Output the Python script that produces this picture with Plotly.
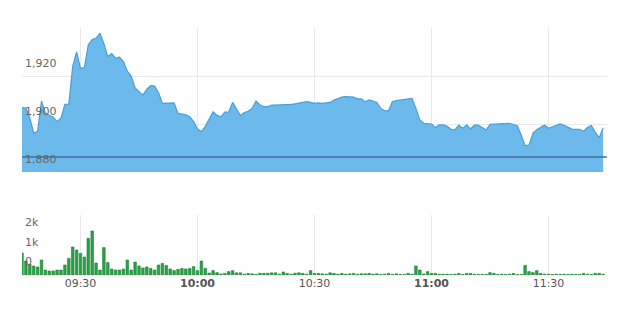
import pandas as pd
import plotly.graph_objects as go

# ---- data ----
start_time = "2024-01-02 09:15"
price = [
    1906.8, 1906.6, 1902.5, 1896.2, 1897.0, 1909.5, 1904.5, 1903.5, 1902.8, 1901.0,
    1902.5, 1908.2, 1908.3, 1924.0, 1930.0, 1923.2, 1923.5, 1933.0, 1935.2, 1935.8,
    1937.8, 1933.5, 1928.0, 1929.3, 1927.4, 1927.8, 1926.0, 1922.0, 1920.0, 1915.0,
    1913.5, 1912.0, 1914.5, 1916.0, 1915.8, 1913.0, 1908.6, 1908.6, 1908.8, 1908.8,
    1904.4, 1904.2, 1903.8, 1903.0, 1901.0, 1897.9, 1896.8, 1899.0, 1902.4, 1905.1,
    1903.6, 1903.0, 1905.0, 1905.0, 1909.0, 1906.0, 1903.5, 1904.8, 1905.3, 1906.5,
    1909.6, 1908.0, 1907.2, 1907.2, 1907.9, 1907.9, 1907.9, 1908.0, 1908.0, 1908.2,
    1908.4, 1908.6, 1908.8, 1909.3, 1909.0, 1908.6, 1908.8, 1908.6, 1908.8, 1909.0,
    1910.0, 1910.7, 1911.2, 1911.4, 1911.2, 1911.2, 1910.5, 1910.5, 1909.3, 1910.0,
    1909.6, 1909.0, 1906.5, 1905.5, 1905.5, 1909.4, 1909.8, 1910.0, 1910.2, 1910.4,
    1910.7, 1906.5, 1901.7, 1900.3, 1900.3, 1900.0, 1898.5, 1899.6, 1899.6, 1899.0,
    1897.8, 1897.5, 1899.5, 1898.2, 1899.7, 1898.0, 1899.5, 1899.5, 1898.5, 1897.5,
    1899.9, 1900.0, 1900.0, 1900.0, 1900.1, 1900.3, 1899.8, 1899.3, 1895.4, 1891.0,
    1891.2, 1896.1, 1897.6, 1898.5, 1899.6, 1898.2, 1898.8, 1899.5, 1900.0, 1899.5,
    1898.6, 1897.9, 1897.8, 1897.8, 1897.0, 1898.5, 1899.4, 1896.5, 1894.3, 1898.3,
]
volume = [
    1100, 700, 530, 450, 400, 750, 250, 200, 200, 250,
    250, 500, 830, 1400, 1250, 1080, 900, 1830, 2200, 600,
    250, 1370, 620, 300, 250, 250, 300, 750, 250, 650,
    450, 350, 400, 330, 250, 500, 580, 480, 300, 220,
    280, 330, 300, 330, 420, 220, 700, 330, 100, 220,
    120, 50, 80, 170, 220, 110, 110, 40, 80, 60,
    30, 90, 80, 90, 110, 110, 40, 150, 80, 40,
    90, 110, 80, 40, 220, 80, 80, 60, 40, 110,
    80, 40, 80, 40, 60, 80, 40, 60, 60, 80,
    40, 60, 30, 40, 80, 30, 60, 30, 30, 80,
    40, 450, 250, 50, 170, 80, 80, 40, 40, 40,
    30, 40, 80, 30, 80, 80, 40, 30, 30, 30,
    120, 80, 30, 40, 30, 40, 80, 30, 30, 480,
    170, 120, 220, 80, 40, 40, 30, 40, 30, 40,
    30, 40, 30, 30, 80, 40, 30, 80, 80, 40,
]
prev_close = 1886.3
x_range = ["2024-01-02 09:15", "2024-01-02 11:45"]
x_tickvals = ["2024-01-02 09:30", "2024-01-02 10:00", "2024-01-02 10:30",
              "2024-01-02 11:00", "2024-01-02 11:30"]
x_ticktext = ["09:30", "<b>10:00</b>", "10:30", "<b>11:00</b>", "11:30"]
price_tickvals = [1880, 1900, 1920, 1940]
price_ticktext = ["1,880", "1,900", "1,920", ""]
vol_tickvals = [1000, 2000]
vol_ticktext = ["1k", "2k"]
vol_zero_label = "0"

times = pd.date_range(start_time, periods=len(price), freq="1min")

fig = go.Figure()
fig.add_trace(go.Scatter(
    x=times, y=price, mode="lines", fill="tozeroy",
    line=dict(color="#4a9fd9", width=1.2), fillcolor="#6cb9eb",
    xaxis="x", yaxis="y", showlegend=False,
))
fig.add_trace(go.Scatter(
    x=x_range, y=[prev_close, prev_close], mode="lines",
    line=dict(color="#3f6f9c", width=1.5),
    xaxis="x", yaxis="y", showlegend=False,
))
fig.add_trace(go.Bar(
    x=times, y=volume, width=40000,
    marker=dict(color="#2ba048", line=dict(color="#1a8534", width=0.6)),
    xaxis="x2", yaxis="y2", showlegend=False,
))

font = dict(family="DejaVu Sans", size=11, color="#666666")
common_x = dict(type="date", range=x_range, tickvals=x_tickvals,
                showgrid=True, gridcolor="#e8e8e8", gridwidth=1,
                zeroline=False, showline=False, ticks="", tickfont=font)

fig.update_layout(
    width=640, height=319,
    margin=dict(l=22, r=33, t=28, b=44),
    paper_bgcolor="white", plot_bgcolor="white",
    font=font,
    xaxis=dict(common_x, anchor="y", showticklabels=False),
    xaxis2=dict(common_x, anchor="y2", ticktext=x_ticktext,
                tickfont=dict(family="DejaVu Sans", size=11, color="#555555")),
    yaxis=dict(domain=[0.417, 1.0], range=[1880, 1940],
               tickvals=price_tickvals, ticktext=price_ticktext,
               ticklabelposition="inside top", ticklabelshift=-5, showgrid=True,
               gridcolor="#e8e8e8", zeroline=False, ticks="", tickfont=font),
    yaxis2=dict(domain=[0.0, 0.243], range=[0, 3000],
                tickvals=vol_tickvals, ticktext=vol_ticktext,
                ticklabelposition="inside top", ticklabelshift=-5, showgrid=False,
                zeroline=False, ticks="", tickfont=font),
    bargap=0.3,
)
fig.add_annotation(
    text=vol_zero_label, x=0, xref="x2 domain", y=0, yref="y2",
    xanchor="left", yanchor="bottom", xshift=1, yshift=5,
    showarrow=False, font=font,
)

fig.write_html("out.html")
